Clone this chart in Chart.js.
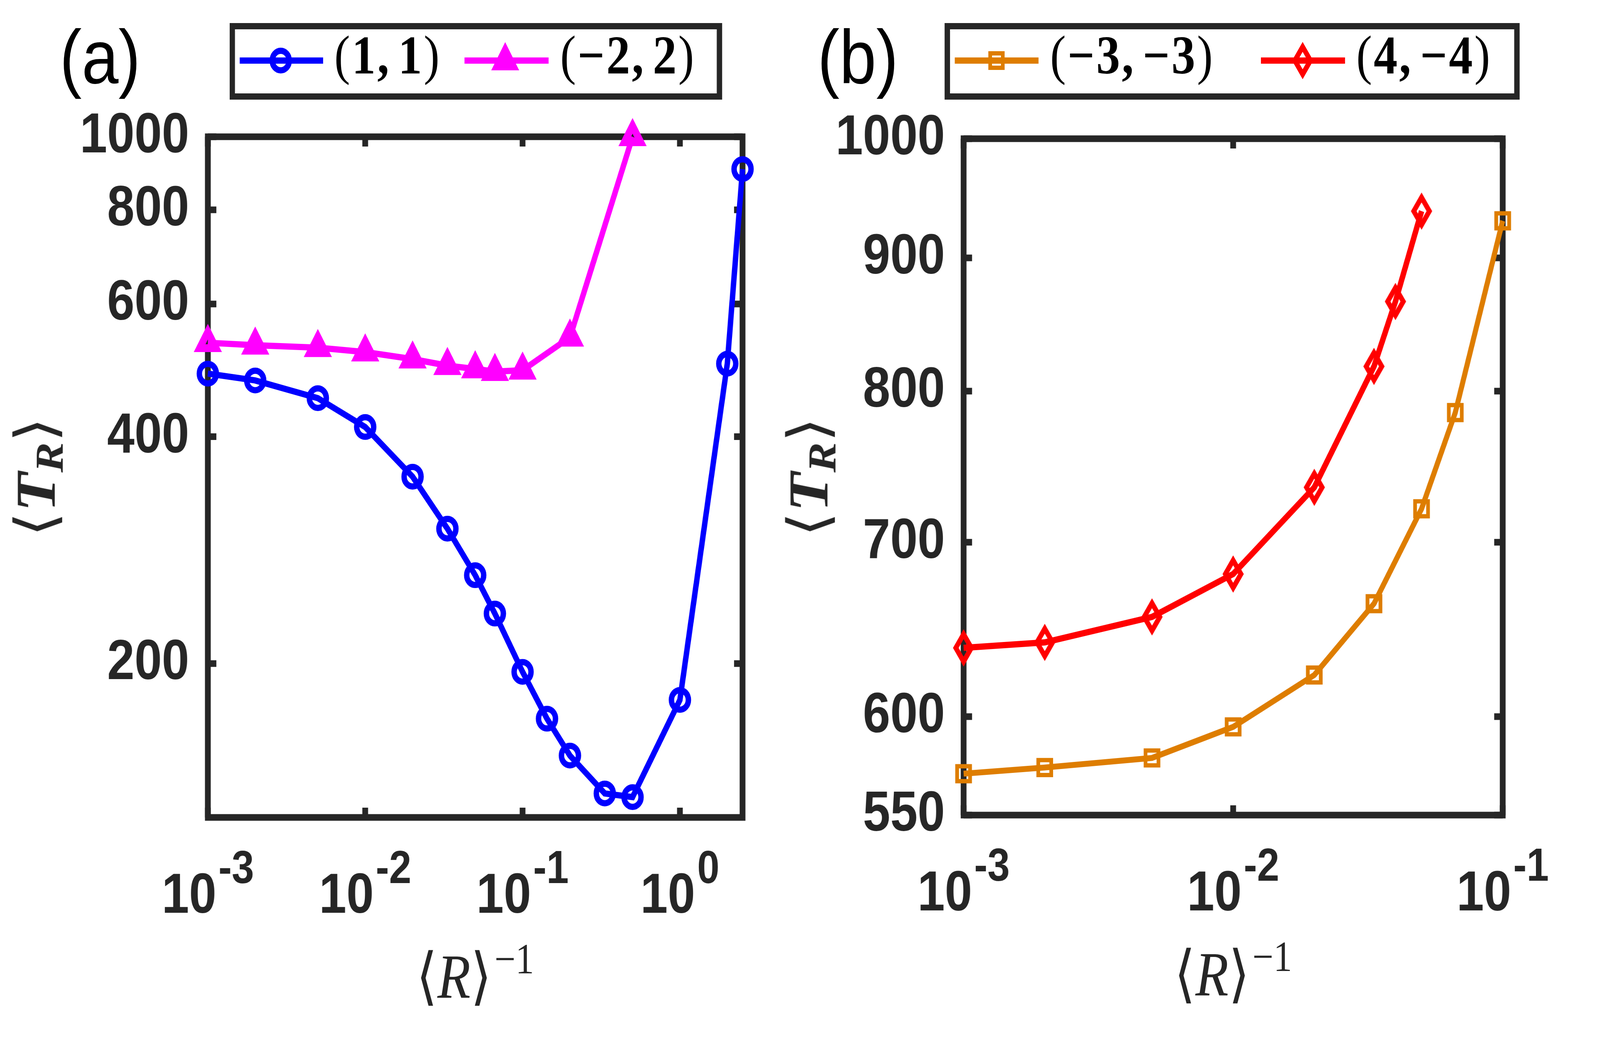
<!DOCTYPE html>
<html>
<head>
<meta charset="utf-8">
<script src="https://cdn.jsdelivr.net/npm/chart.js@4.4.1/dist/chart.umd.min.js"></script>
<style>
  html, body { margin: 0; padding: 0; overflow: hidden; background: #fff; }
  #stage { position: absolute; left: 0; top: 0; width: 4719px; height: 2700px; transform-origin: 0 0; color: #262626; }
  canvas { position: absolute; top: 0; }
  #chartA { left: 0; }
  #chartB { left: 2360px; }
  .tag { position: absolute; top: 48px; font: 195px/195px "Liberation Sans", Arial, sans-serif; color: #000; }
  .legend { position: absolute; top: 59px; height: 196px; border: 16px solid #262626; box-sizing: border-box; background: #fff; }
  .lt { position: absolute; top: 71px; font: 140px/140px "Liberation Serif", "DejaVu Serif", serif; color: #000; white-space: nowrap; letter-spacing: 5px; }
  .lt b { font-weight: bold; }
  .th { display: inline-block; width: 22px; }
  .math { position: absolute; font-family: "Liberation Serif", "DejaVu Serif", "DejaVu Sans", serif; color: #262626; white-space: nowrap; }
  .xtitle { font-size: 160px; line-height: 160px; transform: translateX(-50%); }
  .xtitle .sup { font-size: 110px; position: relative; top: -62px; margin-left: 8px; }
  .ytitle { font-size: 165px; line-height: 165px; transform: translate(-50%, -50%) rotate(-90deg); }
  .ytitle .sub { font-size: 116px; position: relative; top: 25px; }
  svg { position: absolute; left: 0; top: 0; }
</style>
</head>
<body>
<div id="stage">
<canvas id="chartA" width="2360" height="2700"></canvas>
<canvas id="chartB" width="2359" height="2700"></canvas>

<div class="tag" style="left:176px">(a)</div>
<div class="tag" style="left:2411px">(b)</div>

<div class="legend" style="left:677px; width:1453px"></div>
<div class="legend" style="left:2786px; width:1696px"></div>
<svg width="4719" height="300">
  <line x1="707" y1="155" x2="953" y2="155" stroke="#0000ff" stroke-width="16"/>
  <circle cx="828" cy="155" r="25" fill="none" stroke="#0000ff" stroke-width="16"/>
  <line x1="1370" y1="155" x2="1618" y2="155" stroke="#ff00ff" stroke-width="16"/>
  <polygon points="1490,128 1514,170 1466,170" fill="none" stroke="#ff00ff" stroke-width="20"/>
  <line x1="2816" y1="155" x2="3063" y2="155" stroke="#de7d00" stroke-width="16"/>
  <rect x="2920.5" y="136.5" width="37" height="37" fill="none" stroke="#de7d00" stroke-width="11"/>
  <line x1="3719" y1="155" x2="3967" y2="155" stroke="#ff0000" stroke-width="16"/>
  <polygon points="3842,120 3865,155 3842,190 3819,155" fill="none" stroke="#ff0000" stroke-width="14"/>
</svg>
<div class="lt" style="left:986px">(<b>1,</b><span class="th"></span><b>1</b>)</div>
<div class="lt" style="left:1652px">(<b>−2,</b><span class="th"></span><b>2</b>)</div>
<div class="lt" style="left:3097px">(<b>−3,</b><span class="th"></span><b>−3</b>)</div>
<div class="lt" style="left:4000px">(<b>4,</b><span class="th"></span><b>−4</b>)</div>

<div class="math xtitle" id="xtA">⟨<i>R</i>⟩<span class="sup">−1</span></div>
<div class="math xtitle" id="xtB">⟨<i>R</i>⟩<span class="sup">−1</span></div>
<div class="math ytitle" id="ytA">⟨<b><i>T</i></b><b><i class="sub">R</i></b>⟩</div>
<div class="math ytitle" id="ytB">⟨<b><i>T</i></b><b><i class="sub">R</i></b>⟩</div>
</div>

<script>
// panel (a): <R>^-1 vs <T_R>
const xA11 = [0.001, 0.002, 0.005, 0.01, 0.02, 0.0333, 0.05, 0.0667, 0.1, 0.143, 0.2, 0.333, 0.5, 1, 2, 2.5];
const yA11 = [485, 475, 450, 412, 354, 302, 262, 233, 195, 169, 151, 134.5, 133, 179, 500, 906];
const xA22 = [0.001, 0.002, 0.005, 0.01, 0.02, 0.0333, 0.05, 0.0667, 0.1, 0.2, 0.5];
const yA22 = [533, 529, 525, 518, 507, 497, 492, 488, 490, 542, 1000];

// panel (b)
const xB33 = [0.001, 0.002, 0.005, 0.01, 0.02, 0.0333, 0.05, 0.0667, 0.1];
const yB33 = [570.5, 573.6, 578.5, 594.6, 622.5, 663, 721, 785, 930];
const xB44 = [0.001, 0.002, 0.005, 0.01, 0.02, 0.0333, 0.04, 0.05];
const yB44 = [637.6, 640.7, 655.3, 680.6, 734.8, 817.7, 866, 938];

const seriesA = ['(1, 1)', '(−2, 2)'];
const seriesB = ['(−3, −3)', '(4, −4)'];

const xTicksA = [0.001, 0.01, 0.1, 1];
const yTicksA = [200, 400, 600, 800, 1000];
const xTicksB = [0.001, 0.01, 0.1];
const yTicksB = [550, 600, 700, 800, 900, 1000];

const AXIS = '#262626';
const TICK_FONT = '"Liberation Sans", Arial, sans-serif';

// everything is laid out on a 4719x2700 stage and stretched onto the real viewport
const W = 4719, H = 2700;
const sx = window.innerWidth / W, sy = window.innerHeight / H;
document.getElementById('stage').style.transform = 'scale(' + sx + ',' + sy + ')';
document.body.style.width = window.innerWidth + 'px';
document.body.style.height = window.innerHeight + 'px';
const DPR = (window.devicePixelRatio || 1) * Math.max(sx, sy);

function pts(xs, ys) {
  return xs.map((x, i) => ({ x: x, y: ys[i] }));
}

// taller-than-wide diamond, like matlab's 'd' marker
function diamondMarker(color, hw, hh, lw) {
  const c = document.createElement('canvas');
  c.width = (hw + 2 * lw) * 2;
  c.height = (hh + 2 * lw) * 2;
  const g = c.getContext('2d');
  const cx = c.width / 2, cy = c.height / 2;
  g.strokeStyle = color;
  g.lineWidth = lw;
  g.beginPath();
  g.moveTo(cx, cy - hh);
  g.lineTo(cx + hw, cy);
  g.lineTo(cx, cy + hh);
  g.lineTo(cx - hw, cy);
  g.closePath();
  g.stroke();
  return c;
}

// box with inward ticks on all four sides
const frame = {
  id: 'frame',
  beforeDatasetsDraw(chart, args, opts) {
    const { ctx, chartArea: a, scales: { x, y } } = chart;
    const len = 25;
    ctx.save();
    ctx.strokeStyle = AXIS;
    ctx.lineWidth = 17;
    ctx.beginPath();
    opts.xTicks.forEach(v => {
      const px = x.getPixelForValue(v);
      ctx.moveTo(px, a.bottom); ctx.lineTo(px, a.bottom - len);
      ctx.moveTo(px, a.top); ctx.lineTo(px, a.top + len);
    });
    opts.yTicks.forEach(v => {
      const py = y.getPixelForValue(v);
      ctx.moveTo(a.left, py); ctx.lineTo(a.left + len, py);
      ctx.moveTo(a.right, py); ctx.lineTo(a.right - len, py);
    });
    ctx.stroke();
    ctx.strokeRect(a.left, a.top, a.right - a.left, a.bottom - a.top);
    ctx.restore();
  }
};

// 10^n labels under the x axis
const powerLabels = {
  id: 'powerLabels',
  afterDraw(chart, args, opts) {
    const { ctx, chartArea: a, scales: { x } } = chart;
    const big = 'bold 145px ' + TICK_FONT;
    const small = 'bold 118px ' + TICK_FONT;
    ctx.save();
    ctx.fillStyle = AXIS;
    ctx.textBaseline = 'alphabetic';
    opts.ticks.forEach(v => {
      const exp = String(Math.round(Math.log10(v)));
      ctx.font = big;
      const wb = ctx.measureText('10').width;
      ctx.font = small;
      const we = ctx.measureText(exp).width;
      const gap = 6;
      const left = x.getPixelForValue(v) - (wb + gap + we) / 2;
      ctx.font = big;
      ctx.fillText('10', left, a.bottom + 244);
      ctx.font = small;
      ctx.fillText(exp, left + wb + gap, a.bottom + 168);
    });
    ctx.restore();
  }
};

function makeChart(id, cfg) {
  return new Chart(document.getElementById(id), {
    type: 'line',
    data: { datasets: cfg.datasets },
    options: {
      responsive: false,
      devicePixelRatio: DPR,
      animation: false,
      layout: { padding: cfg.padding },
      datasets: { line: { clip: false } },
      plugins: {
        legend: { display: false },
        tooltip: { enabled: false },
        frame: { xTicks: cfg.xTicks, yTicks: cfg.yTicks },
        powerLabels: { ticks: cfg.xTicks }
      },
      scales: {
        x: {
          type: 'logarithmic',
          min: cfg.xMin,
          max: cfg.xMax,
          grid: { display: false },
          border: { display: false },
          ticks: { display: false },
          afterFit: s => { s.height = cfg.xHeight; }
        },
        y: {
          type: 'logarithmic',
          min: cfg.yMin,
          max: cfg.yMax,
          grid: { display: false, drawTicks: false },
          border: { display: false },
          afterBuildTicks: s => { s.ticks = cfg.yTicks.map(v => ({ value: v })); },
          ticks: {
            autoSkip: false,
            padding: 55,
            color: AXIS,
            font: { family: TICK_FONT, size: 145, weight: 'bold' },
            callback: v => String(v)
          },
          afterFit: s => { s.width = cfg.yWidth; }
        }
      }
    },
    plugins: [frame, powerLabels]
  });
}

const chartA = makeChart('chartA', {
  padding: { left: 0, top: 350, right: 170, bottom: 0 },
  yWidth: 613, xHeight: 608,
  xMin: 0.001, xMax: 2.5, yMin: 125, yMax: 1000,
  xTicks: xTicksA, yTicks: yTicksA,
  datasets: [
    {
      label: seriesA[0], data: pts(xA11, yA11),
      borderColor: '#0000ff', borderWidth: 16,
      pointStyle: 'circle', pointRadius: 25, pointBorderWidth: 16,
      pointBorderColor: '#0000ff', pointBackgroundColor: 'rgba(0,0,0,0)'
    },
    {
      label: seriesA[1], data: pts(xA22, yA22),
      borderColor: '#ff00ff', borderWidth: 16,
      pointStyle: 'triangle', pointRadius: 28, pointBorderWidth: 20,
      pointBorderColor: '#ff00ff', pointBackgroundColor: 'rgba(0,0,0,0)'
    }
  ]
});

const chartB = makeChart('chartB', {
  padding: { left: 0, top: 355, right: 287, bottom: 0 },
  yWidth: 482, xHeight: 614,
  xMin: 0.001, xMax: 0.1, yMin: 550, yMax: 1000,
  xTicks: xTicksB, yTicks: yTicksB,
  datasets: [
    {
      label: seriesB[0], data: pts(xB33, yB33),
      borderColor: '#de7d00', borderWidth: 15,
      pointStyle: 'rect', pointRadius: 27, pointBorderWidth: 11,
      pointBorderColor: '#de7d00', pointBackgroundColor: 'rgba(0,0,0,0)'
    },
    {
      label: seriesB[1], data: pts(xB44, yB44),
      borderColor: '#ff0000', borderWidth: 16,
      pointStyle: diamondMarker('#ff0000', 23, 35, 14), pointRadius: 30
    }
  ]
});

// place the axis titles from the chart geometry
function placeTitles(chart, offsetX, xt, yt, yTitleX) {
  const a = chart.chartArea;
  const xEl = document.getElementById(xt);
  xEl.style.left = (offsetX + (a.left + a.right) / 2) + 'px';
  xEl.style.top = (a.bottom + 461 - 134) + 'px';
  const yEl = document.getElementById(yt);
  yEl.style.left = yTitleX + 'px';
  yEl.style.top = ((a.top + a.bottom) / 2) + 'px';
}
placeTitles(chartA, 0, 'xtA', 'ytA', 114);
placeTitles(chartB, 2360, 'xtB', 'ytB', 2393);
</script>
</body>
</html>
